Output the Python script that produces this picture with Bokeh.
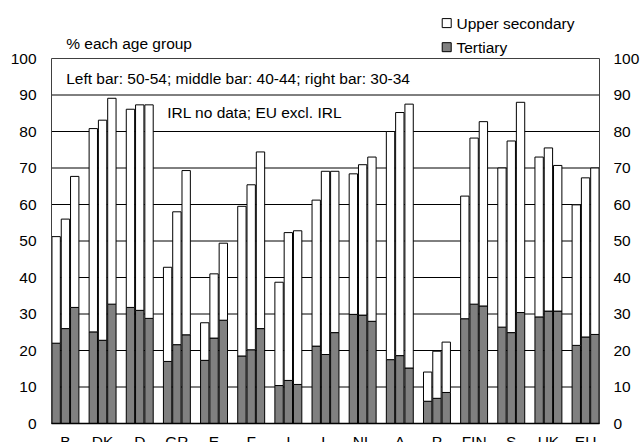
from bokeh.plotting import figure
from bokeh.models import Range1d, ColumnDataSource
from bokeh.core.properties import value
from bokeh.embed import file_html
from bokeh.resources import INLINE

countries = ["B", "DK", "D", "GR", "E", "F", "I", "L", "NL", "A", "P", "FIN", "S", "UK", "EU"]
age_groups = ["50-54", "40-44", "30-34"]

# Top of bar = upper secondary or more; tertiary = grey bottom part
upper_50_54 = [51.2, 80.8, 86.1, 42.8, 27.6, 59.5, 38.7, 61.2, 68.4, 80.0, 14.1, 62.3, 70.0, 73.0, 59.9]
tertiary_50_54 = [22.0, 25.1, 31.8, 17.0, 17.3, 18.5, 10.4, 21.2, 29.9, 17.5, 6.1, 28.7, 26.4, 29.2, 21.4]
upper_40_44 = [56.0, 83.1, 87.3, 58.0, 41.0, 65.4, 52.3, 69.1, 70.9, 85.2, 19.8, 78.2, 77.4, 75.5, 67.3]
tertiary_40_44 = [26.0, 22.8, 31.0, 21.6, 23.4, 20.2, 11.8, 18.9, 29.7, 18.6, 6.9, 32.7, 24.9, 30.8, 23.7]
upper_30_34 = [67.7, 89.1, 87.3, 69.3, 49.4, 74.4, 52.8, 69.1, 73.0, 87.5, 22.3, 82.7, 88.0, 70.7, 70.0]
tertiary_30_34 = [31.8, 32.7, 28.8, 24.3, 28.3, 26.0, 10.7, 24.9, 28.0, 15.2, 8.5, 32.2, 30.4, 30.8, 24.4]

y_ticks = [0, 10, 20, 30, 40, 50, 60, 70, 80, 90, 100]
legend_labels = ["Upper secondary", "Tertiary"]
legend_colors = ["white", "#808080"]

FONT = value("Liberation Sans")
FS = value("15.5px")

uppers = [upper_50_54, upper_40_44, upper_30_34]
ters = [tertiary_50_54, tertiary_40_44, tertiary_30_34]

xs, tops, bottoms = [], [], []
for i in range(len(countries)):
    for k in range(len(age_groups)):
        xs.append(4 * i + k + 0.5)
        tops.append(uppers[k][i])
        bottoms.append(ters[k][i])
src = ColumnDataSource(dict(x=xs, total=tops, ter=bottoms))

n_slots = 4 * len(countries) - 1  # 3 bars + 1 gap per group, no trailing gap

# plot area on the canvas: x 51..599 px, y 58..423 px
W, H = 640, 442
PL, PR, PT, PB = 51, 599, 58, 423
sx = (PR - PL) / n_slots
sy = (PB - PT) / 100.0

p = figure(width=W, height=H, output_backend="svg", toolbar_location=None,
           x_range=Range1d(-PL / sx, n_slots + (W - PR) / sx),
           y_range=Range1d(-(H - PB) / sy, 100 + PT / sy),
           min_border=0)
p.axis.visible = False
p.grid.visible = False
p.outline_line_color = None
p.background_fill_color = "white"
p.border_fill_color = "white"

# horizontal grid lines
grid_y = y_ticks[1:-1]
p.segment(x0=[0] * len(grid_y), y0=grid_y, x1=[n_slots] * len(grid_y), y1=grid_y,
          line_color="black", line_width=1)

# bars
p.vbar(x="x", width=0.9, bottom=0, top="ter", source=src,
       fill_color="#808080", line_color="black", line_width=1)
p.vbar(x="x", width=0.9, bottom="ter", top="total", source=src,
       fill_color="white", line_color="black", line_width=1)

# plot frame
p.quad(left=[0], right=[n_slots], bottom=[0], top=[100], fill_color=None,
       line_color="#404040", line_width=1)
p.segment(x0=[0], y0=[0], x1=[n_slots], y1=[0], line_color="black", line_width=1.5)

# y tick labels, both sides
tick_txt = [str(t) for t in y_ticks]
p.text(x=[0] * len(y_ticks), y=y_ticks, text=tick_txt, x_offset=-15,
       text_align="right", text_baseline="middle", text_font=FONT,
       text_font_size=FS, text_color="black")
p.text(x=[n_slots] * len(y_ticks), y=y_ticks, text=tick_txt, x_offset=14,
       text_align="left", text_baseline="middle", text_font=FONT,
       text_font_size=FS, text_color="black")

# category labels under the middle bar of each group
p.text(x=[4 * i + 1.5 for i in range(len(countries))], y=[0] * len(countries),
       text=countries, y_offset=9, text_align="center", text_baseline="top",
       text_font=FONT, text_font_size=FS, text_color="black")

# notes
p.text(x=[1.58], y=[94.4], text=["Left bar: 50-54; middle bar: 40-44; right bar: 30-34"],
       text_baseline="middle", text_font=FONT, text_font_size=FS, text_color="black")
p.text(x=[12.46], y=[85.3], text=["IRL no data; EU excl. IRL"],
       text_baseline="middle", text_font=FONT, text_font_size=FS, text_color="black")
p.text(x=[1.58], y=[104.0], text=["% each age group"],
       text_baseline="middle", text_font=FONT, text_font_size=FS, text_color="black")

# legend (above the plot area, right)
leg_y = [109.7, 103.1]
p.rect(x=[42.55, 42.55], y=leg_y, width=9, height=9, width_units="screen",
       height_units="screen", fill_color=legend_colors, line_color="black", line_width=1)
p.text(x=[43.6, 43.6], y=leg_y, text=legend_labels, text_baseline="middle",
       text_font=FONT, text_font_size=FS, text_color="black")

open("out.html", "w").write(file_html(p, INLINE))
